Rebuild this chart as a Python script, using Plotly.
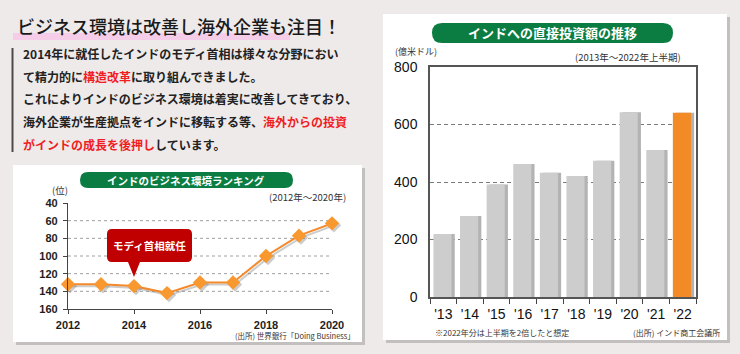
import plotly.graph_objects as go

W, H = 740, 354

# ---------------- data ----------------
rank_years = [2012, 2013, 2014, 2015, 2016, 2017, 2018, 2019, 2020]
rank_values = [132, 132, 134, 142, 130, 130, 100, 77, 63]
rank_ticks = [40, 60, 80, 100, 120, 140, 160]
year_ticks = [2012, 2014, 2016, 2018, 2020]

fdi_labels = ["'13", "'14", "'15", "'16", "'17", "'18", "'19", "'20", "'21", "'22"]
fdi_values = [219, 282, 391, 463, 432, 421, 474, 643, 511, 641]
fdi_ticks = [0, 200, 400, 600, 800]

# ---------------- style ----------------
BG = "#eeeaea"
GREEN = "#0b7d42"
ORANGE = "#f4892b"
GRAYBAR = "#cdcdcd"
RED = "#f01e23"
JP = "Noto Sans CJK JP"
NUM = "Liberation Sans"


def X(p):
    return p / W


def Y(p):
    return 1 - p / H


def rr_path(x0, y0, x1, y1, r, pointer=None):
    """rounded rect path in pixel coords -> paper coords"""
    def P(x, y):
        return f"{X(x):.5f},{Y(y):.5f}"
    s = f"M {P(x0 + r, y0)} L {P(x1 - r, y0)} Q {P(x1, y0)} {P(x1, y0 + r)} "
    s += f"L {P(x1, y1 - r)} Q {P(x1, y1)} {P(x1 - r, y1)} "
    if pointer is not None:
        px_, w, tip = pointer
        s += f"L {P(px_ + w, y1)} L {P(px_, tip)} L {P(px_ - w, y1)} "
    s += f"L {P(x0 + r, y1)} Q {P(x0, y1)} {P(x0, y1 - r)} "
    s += f"L {P(x0, y0 + r)} Q {P(x0, y0)} {P(x0 + r, y0)} Z"
    return s


fig = go.Figure()

# line chart shadow (subplot xy) drawn first
fig.add_trace(go.Scatter(
    x=rank_years, y=rank_values, mode="lines+markers",
    line=dict(color="rgba(110,110,110,0.35)", width=2),
    marker=dict(symbol="diamond", size=11, color="rgba(110,110,110,0.35)"),
    cliponaxis=False, hoverinfo="skip", showlegend=False,
    xaxis="x", yaxis="y"))
# line chart main (x2y2)
fig.add_trace(go.Scatter(
    x=rank_years, y=rank_values, mode="lines+markers",
    line=dict(color=ORANGE, width=2),
    marker=dict(symbol="diamond", size=11, color="#f8982f"),
    cliponaxis=False, showlegend=False,
    xaxis="x2", yaxis="y2"))

# bar chart: shadow + main in x4y4 (overlay)
fig.add_trace(go.Bar(
    x=fdi_labels, y=fdi_values, width=0.68, offset=-0.34 + 0.09,
    marker=dict(color="#b3b3b3", line=dict(width=0)),
    hoverinfo="skip", showlegend=False, xaxis="x4", yaxis="y4"))
fig.add_trace(go.Bar(
    x=fdi_labels, y=fdi_values, width=0.68, offset=-0.34 - 0.03,
    marker=dict(color=[GRAYBAR] * (len(fdi_values) - 1) + ["#f28a26"], line=dict(width=0)),
    showlegend=False, xaxis="x4", yaxis="y4"))

# ---------------- axes ----------------
lc = dict(x0=68, x1=332, y0=203, y1=309)   # line chart plot area (px)
bc = dict(x0=430, x1=696, y0=67, y1=297)   # bar chart plot area (px)
sh = 2

hidden = dict(visible=False, showgrid=False, zeroline=False, automargin=False)
tf_small = dict(family=NUM, size=11, color="#1e1e1e", weight="bold")
tf_big = dict(family=NUM, size=14, color="#111")
fig.update_layout(
    xaxis=dict(domain=[X(lc["x0"] + sh), X(lc["x1"] + sh)], range=[2012, 2020], anchor="y", **hidden),
    yaxis=dict(domain=[Y(lc["y1"] + sh), Y(lc["y0"] + sh)], range=[160, 40], anchor="x", **hidden),
    xaxis2=dict(domain=[X(lc["x0"]), X(lc["x1"])], range=[2012, 2020], anchor="y2",
                tickvals=year_ticks, ticks="outside", ticklen=4, tickcolor="#444",
                showline=True, linecolor="#444", linewidth=1.2, showgrid=False, zeroline=False,
                automargin=False, tickangle=0, ticklabelstandoff=2, tickfont=tf_small),
    yaxis2=dict(domain=[Y(lc["y1"]), Y(lc["y0"])], range=[160, 40], anchor="x2",
                tickvals=rank_ticks, ticks="outside", ticklen=4, tickcolor="#444",
                showline=True, linecolor="#444", linewidth=1.2, showgrid=False, zeroline=False,
                automargin=False, ticklabelstandoff=3, tickfont=tf_small),
    xaxis4=dict(domain=[X(bc["x0"]), X(bc["x1"])], anchor="y4", type="category",
                tickson="boundaries", ticks="outside", ticklen=5, tickcolor="#444",
                showline=True, mirror=True, linecolor="#555", linewidth=1.5,
                showgrid=False, zeroline=False, automargin=False, tickangle=0,
                ticklabelstandoff=3, tickfont=tf_big),
    yaxis4=dict(domain=[Y(bc["y1"]), Y(bc["y0"])], anchor="x4", range=[0, 800],
                tickvals=fdi_ticks, ticks="", showline=True, mirror=True, linecolor="#555",
                linewidth=1.5, showgrid=True, gridcolor="#7a7a7a", griddash="4px,3px", gridwidth=1,
                zeroline=False, automargin=False, ticklabelstandoff=8, tickfont=tf_big),
    barmode="overlay",
)

# ---------------- shapes ----------------
shapes = []
# cards: shadow + white
for (x0, y0, x1, y1) in [(13, 165, 362, 342), (383, 14, 727, 340)]:
    shapes.append(dict(type="rect", xref="paper", yref="paper", layer="below",
                       x0=X(x0 + 3), x1=X(x1 + 3), y0=Y(y1 + 3), y1=Y(y0 + 3),
                       fillcolor="rgba(0,0,0,0.18)", line=dict(width=0)))
    shapes.append(dict(type="rect", xref="paper", yref="paper", layer="below",
                       x0=X(x0), x1=X(x1), y0=Y(y1), y1=Y(y0),
                       fillcolor="white", line=dict(width=0)))
# pink highlight under title
shapes.append(dict(type="rect", xref="paper", yref="paper", layer="below",
                   x0=X(13), x1=X(290), y0=Y(40), y1=Y(33),
                   fillcolor="#f6cde9", line=dict(width=0)))
# left vertical bar beside paragraph
shapes.append(dict(type="rect", xref="paper", yref="paper", layer="below",
                   x0=X(11.5), x1=X(13.5), y0=Y(152), y1=Y(48),
                   fillcolor="#4a4a4a", line=dict(width=0)))
# green pills
shapes.append(dict(type="path", xref="paper", yref="paper", layer="above",
                   path=rr_path(80, 172, 293, 188, 8), fillcolor=GREEN, line=dict(width=0)))
shapes.append(dict(type="path", xref="paper", yref="paper", layer="above",
                   path=rr_path(432, 23, 673, 43, 10), fillcolor=GREEN, line=dict(width=0)))
# red callout
shapes.append(dict(type="path", xref="paper", yref="paper", layer="above",
                   path=rr_path(107, 229, 192, 262, 5, pointer=(134, 6, 277)),
                   fillcolor="#c00000", line=dict(width=0)))
# dotted grid lines of line chart (inner ticks only)
for v in rank_ticks[1:-1]:
    shapes.append(dict(type="line", xref="x2 domain", yref="y2", layer="below",
                       x0=0, x1=1, y0=v, y1=v,
                       line=dict(color="#a0a0a0", width=1, dash="dot")))
fig.update_layout(shapes=shapes)

# ---------------- annotations ----------------
ann = []


def text(x, y, s, size, color="#222", anchor="left", family=JP, bold=False, weight=None):
    f = dict(family=family, size=size, color=color)
    if weight is not None:
        f["weight"] = weight
    ann.append(dict(xref="paper", yref="paper", x=X(x), y=Y(y), text=(f"<b>{s}</b>" if bold else s),
                    showarrow=False, xanchor=anchor, yanchor="middle", font=f))


def red(s):
    return f"<span style='color:{RED}'>{s}</span>"


text(15, 26, "ビジネス環境は改善し海外企業も注目！", 18, color="#1a1a1a", weight=500)
para = [
    "2014年に就任したインドのモディ首相は様々な分野におい",
    "て精力的に" + red("構造改革") + "に取り組んできました。",
    "これによりインドのビジネス環境は着実に改善してきており、",
    "海外企業が生産拠点をインドに移転する等、" + red("海外からの投資"),
    red("がインドの成長を後押し") + "しています。",
]
for i, line in enumerate(para):
    text(21, 53.5 + i * 22.7, line, 12, color="#222", bold=True)

# line chart texts
text(186.5, 180, "インドのビジネス環境ランキング", 10.5, color="white", anchor="center", bold=True)
text(60, 190, "(位)", 9.5, color="#333", anchor="center")
text(348, 197, "(2012年～2020年)", 9.5, color="#333", anchor="right")
text(149.5, 245.5, "モディ首相就任", 10.5, color="white", anchor="center", bold=True)
text(357, 335, "(出所) 世界銀行「Doing Business」", 7.5, color="#333", anchor="right")

# bar chart texts
text(552.5, 33, "インドへの直接投資額の推移", 13, color="white", anchor="center", bold=True)
text(416, 52, "(億米ドル)", 9, color="#333", anchor="center")
text(683, 57, "(2013年～2022年上半期)", 9.5, color="#333", anchor="right")
text(433, 332, "※2022年分は上半期を2倍したと想定", 8, color="#333")
text(722, 332, "(出所) インド商工会議所", 8, color="#333", anchor="right")

fig.update_layout(
    annotations=ann,
    width=W, height=H,
    margin=dict(l=0, r=0, t=0, b=0, autoexpand=False),
    paper_bgcolor=BG, plot_bgcolor="rgba(0,0,0,0)",
    showlegend=False,
)

fig.write_html("out.html")
